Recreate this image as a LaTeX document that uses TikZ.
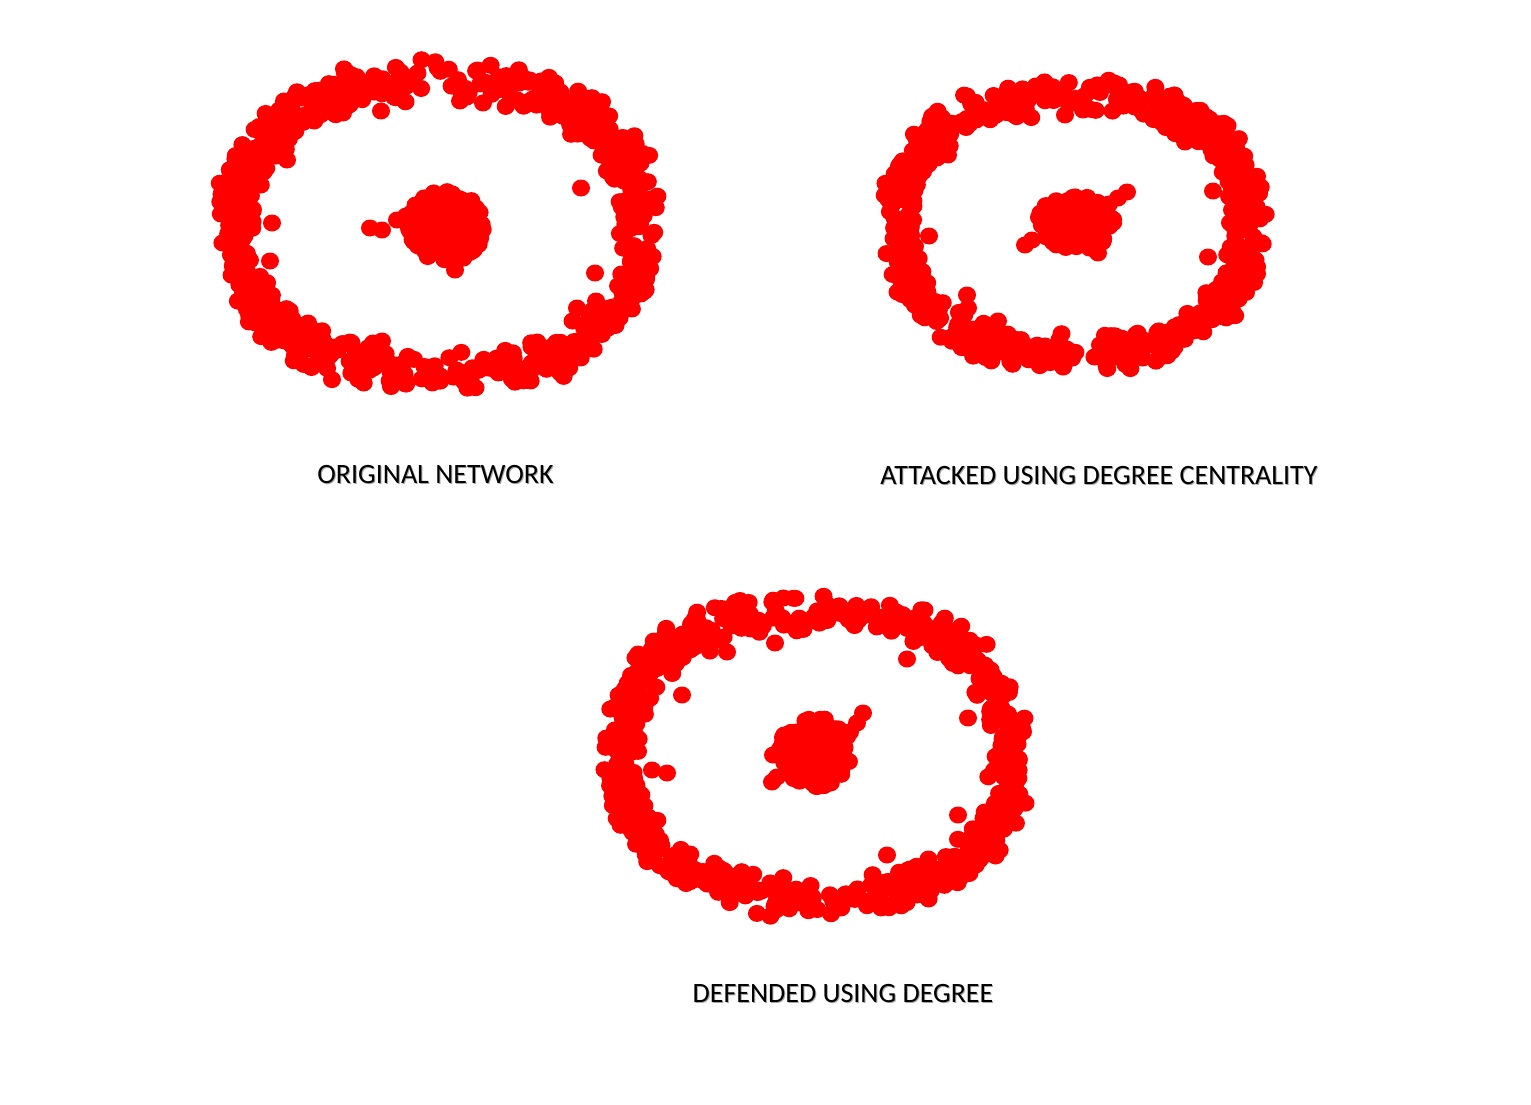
\documentclass[tikz,border=0pt]{standalone}
\usepackage{fontspec}
\setmainfont{Carlito}
\definecolor{dotred}{RGB}{255,0,0}
\tikzset{
  lbl/.style={font=\fontsize{28}{32}\selectfont, inner sep=0pt, anchor=base, text=black},
  lblshadow/.style={lbl, text=black!35},
}
\newcommand\mydot[2]{\fill[dotred] (#1,#2) ellipse[x radius=9pt,y radius=8.5pt];}
% cx cy rx ry thickness n
\newcommand\myring[6]{%
  \foreach \k in {1,...,#6}{%
    \pgfmathsetmacro\t{rnd*360}%
    \pgfmathsetmacro\d{#5*(rand+rand)/2}%
    \pgfmathsetmacro\c{cos(\t)}%
    \pgfmathsetmacro\s{sin(\t)}%
    \pgfmathsetmacro\px{#1+(#3+\d)*ifthenelse(\c<0,-1,1)*pow(abs(\c)+0.0001,0.85)}%
    \pgfmathsetmacro\py{#2+(#4+\d)*ifthenelse(\s<0,-1,1)*pow(abs(\s)+0.0001,0.85)}%
    \mydot{\px}{\py}%
  }}
% cx cy rx ry n
\newcommand\mycluster[5]{%
  \foreach \k in {1,...,#5}{%
    \pgfmathsetmacro\t{rnd*360}%
    \pgfmathsetmacro\r{sqrt(rnd)}%
    \pgfmathsetmacro\px{#1+#3*\r*cos(\t)}%
    \pgfmathsetmacro\py{#2+#4*\r*sin(\t)}%
    \mydot{\px}{\py}%
  }}
\begin{document}
\begin{tikzpicture}[x=1pt,y=-1pt]
\useasboundingbox (0,0) rectangle (1531,1105);
\pgfmathsetseed{2024}
% ---------- network 1 ----------
\myring{439}{227}{201}{146}{24}{740}
\mycluster{446}{226}{39}{36}{170}
\foreach \p/\q in {370/228,382/230,397/220,406/216,455/270,
  381/111,483/103,581/188,272/223,270/261,595/273,577/308,593/310,
  373/343,382/341,287/160,308/323,343/113}{\mydot{\p}{\q}}
% ---------- network 2 ----------
\myring{1073}{225}{175}{128}{21}{640}
\mycluster{1076}{222}{38}{28}{140}
\foreach \p/\q in {1127/192,1118/198,1109/204,1025/245,1032/240,1098/253,
  1065/115,1083/110,1185/142,1218/153,1213/191,1232/210,929/236,1208/257,
  967/295,968/308,998/321,937/158,948/155,908/202}{\mydot{\p}{\q}}
% ---------- network 3 ----------
\myring{817}{755}{194}{143}{22}{700}
\mycluster{815}{752}{36}{35}{160}
\foreach \p/\q in {863/713,857/723,850/732,772/782,777/777,773/755,
  775/643,727/652,907/659,682/695,968/718,667/773,652/770,958/815,
  887/855,713/868,703/640,687/643}{\mydot{\p}{\q}}
% ---------- labels ----------
\node[lblshadow] (s1) at (436.5,484) {ORIGINAL NETWORK};
\node[lbl] (l1) at (435.5,483) {ORIGINAL NETWORK};
\node[lblshadow] (s2) at (1100,485) {ATTACKED USING DEGREE CENTRALITY};
\node[lbl] (l2) at (1099,484) {ATTACKED USING DEGREE CENTRALITY};
\node[lblshadow] (s3) at (844,1003) {DEFENDED USING DEGREE};
\node[lbl] (l3) at (843,1002) {DEFENDED USING DEGREE};
\end{tikzpicture}
\end{document}
